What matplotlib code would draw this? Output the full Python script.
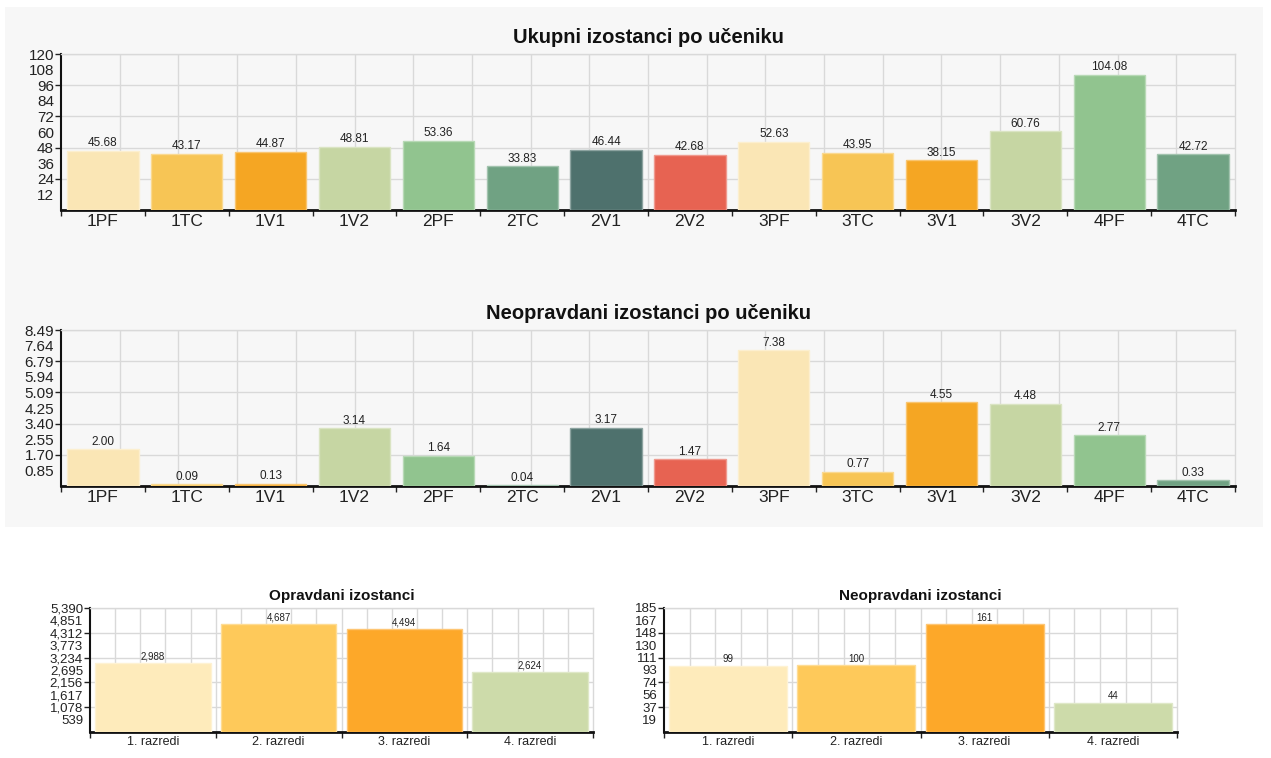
import matplotlib
matplotlib.use("Agg")
import matplotlib.pyplot as plt
import matplotlib.colors as mcolors
import numpy as np

plt.rcParams['font.family'] = ['Liberation Sans', 'DejaVu Sans']

W, H = 1271, 758

# per-class data
classes = ['1PF', '1TC', '1V1', '1V2', '2PF', '2TC', '2V1', '2V2',
           '3PF', '3TC', '3V1', '3V2', '4PF', '4TC']
ukupni = [45.68, 43.17, 44.87, 48.81, 53.36, 33.83, 46.44, 42.68,
          52.63, 43.95, 38.15, 60.76, 104.08, 42.72]
neopravdani = [2.00, 0.09, 0.13, 3.14, 1.64, 0.04, 3.17, 1.47,
               7.38, 0.77, 4.55, 4.48, 2.77, 0.33]
class_colors = ['#fae6b5', '#f7c555', '#f5a623', '#c6d6a3', '#91c48f', '#70a283',
                '#4e716d', '#e76352', '#fae6b5', '#f7c555', '#f5a623', '#c6d6a3',
                '#91c48f', '#70a283']

ukupni_ticks = ['12', '24', '36', '48', '60', '72', '84', '96', '108', '120']
neo_ticks = ['0.85', '1.70', '2.55', '3.40', '4.25', '5.09', '5.94', '6.79', '7.64', '8.49']

# per-grade data
razredi = ['1. razredi', '2. razredi', '3. razredi', '4. razredi']
opravdani_r = [2988, 4687, 4494, 2624]
neopravdani_r = [99, 100, 161, 44]
razred_colors = ['#feebbb', '#fec95a', '#fda829', '#cddbaa']
opr_ticks = ['539', '1,078', '1,617', '2,156', '2,695', '3,234', '3,773', '4,312', '4,851', '5,390']
neo_r_ticks = ['19', '37', '56', '74', '93', '111', '130', '148', '167', '185']


def px_axes(fig, left, right, top, bottom):
    return fig.add_axes([left / W, (H - bottom) / H, (right - left) / W, (bottom - top) / H])


def lighter(c, f=0.35):
    r, g, b = mcolors.to_rgb(c)
    return (r + (1 - r) * f, g + (1 - g) * f, b + (1 - b) * f)


def bar_chart(ax, cats, vals, colors, ymax, ticklabels, title, fmt, width,
              tick_fs, xl_fs, val_fs, title_fs, title_pad, face):
    n = len(cats)
    x = np.arange(n)
    ax.set_facecolor(face)
    bars = ax.bar(x, vals, width=width, color=colors,
                  edgecolor=[lighter(c) for c in colors], linewidth=1, zorder=3)
    ax.bar_label(bars, labels=[fmt(v) for v in vals], padding=1,
                 fontsize=val_fs, color='#222222')
    ax.set_xlim(-0.5, n - 0.5)
    ax.set_ylim(0, ymax)

    # vertical grid: 20 even divisions
    for gx in np.linspace(-0.5, n - 0.5, 21)[1:-1]:
        ax.axvline(gx, color='#d9d9d9', lw=1, zorder=0)
    # y ticks: every tenth of max, grid on every other
    yt = [ymax * k / 10 for k in range(1, 11)]
    ax.set_yticks(yt[1::2])
    ax.set_yticklabels(ticklabels[1::2])
    ax.set_yticks(yt[0::2], minor=True)
    ax.set_yticklabels(ticklabels[0::2], minor=True)
    ax.tick_params(axis='y', which='major', length=4, width=1, color='#222222',
                   labelsize=tick_fs, labelcolor='#222222', pad=1)
    ax.tick_params(axis='y', which='minor', length=0,
                   labelsize=tick_fs, labelcolor='#222222', pad=5)
    ax.grid(axis='y', which='major', color='#d9d9d9', lw=1, zorder=0)

    ax.set_xticks(x)
    ax.set_xticklabels(cats)
    ax.set_xticks(np.arange(n + 1) - 0.5, minor=True)
    ax.tick_params(axis='x', which='major', length=0, labelsize=xl_fs,
                   labelcolor='#222222', pad=3)
    ax.tick_params(axis='x', which='minor', length=4, width=1, color='#222222')

    ax.spines['bottom'].set_color('#111111')
    ax.spines['bottom'].set_linewidth(2)
    ax.spines['left'].set_color('#111111')
    ax.spines['left'].set_linewidth(1.5)
    for s in ('top', 'right'):
        ax.spines[s].set_color('#d9d9d9')
        ax.spines[s].set_linewidth(1)
    ax.set_title(title, fontsize=title_fs, fontweight='bold', pad=title_pad, color='#111111')


fig = plt.figure(figsize=(W / 100, H / 100), dpi=100)
fig.patch.set_facecolor('white')

# light gray panel behind the two top charts
panel = plt.Rectangle((5 / W, (H - 527) / H), 1258 / W, 520 / H,
                      transform=fig.transFigure, facecolor='#f7f7f7',
                      edgecolor='none', zorder=-10)
fig.patches.append(panel)

ax1 = px_axes(fig, 61, 1235, 54, 210)
bar_chart(ax1, classes, ukupni, class_colors, 120, ukupni_ticks,
          'Ukupni izostanci po učeniku', lambda v: f'{v:.2f}', 0.85,
          11, 12.5, 8.5, 14.5, 8, '#f7f7f7')

ax2 = px_axes(fig, 61, 1235, 330, 486)
bar_chart(ax2, classes, neopravdani, class_colors, 8.49, neo_ticks,
          'Neopravdani izostanci po učeniku', lambda v: f'{v:.2f}', 0.85,
          11, 12.5, 8.5, 14.5, 8, '#f7f7f7')

ax3 = px_axes(fig, 90, 593, 608, 732)
bar_chart(ax3, razredi, opravdani_r, razred_colors, 5390, opr_ticks,
          'Opravdani izostanci', lambda v: f'{v:,.0f}', 0.92,
          9.5, 9, 7, 11, 6, 'white')

ax4 = px_axes(fig, 664, 1177, 608, 732)
bar_chart(ax4, razredi, neopravdani_r, razred_colors, 185, neo_r_ticks,
          'Neopravdani izostanci', lambda v: f'{v:,.0f}', 0.92,
          9.5, 9, 7, 11, 6, 'white')

fig.savefig('out.png', dpi=100)
